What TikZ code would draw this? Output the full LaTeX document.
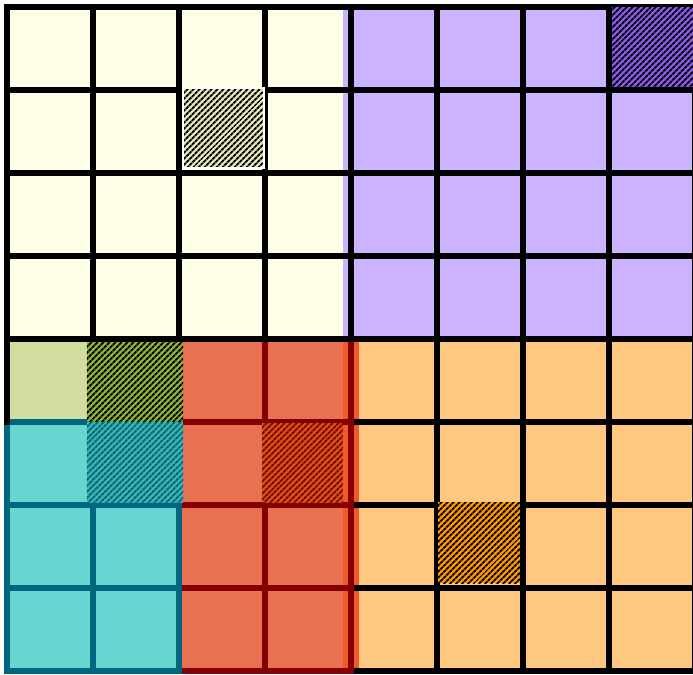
\documentclass[tikz,border=0pt]{standalone}
\usetikzlibrary{patterns.meta}

\definecolor{ivory}{HTML}{FFFFE8}
\definecolor{lavender}{HTML}{CCB3FF}
\definecolor{sage}{HTML}{D2DEA0}
\definecolor{aqua}{HTML}{68D6D0}
\definecolor{coral}{HTML}{E87151}
\definecolor{flame}{HTML}{F05A28}
\definecolor{peach}{HTML}{FFC880}
\definecolor{tealline}{HTML}{00667F}
\definecolor{redline}{HTML}{850000}
\definecolor{khaki}{HTML}{E6E6BE}
\definecolor{violet}{HTML}{8B5BE8}
\definecolor{olive}{HTML}{8DB33A}
\definecolor{seagreen}{HTML}{3FB3AC}
\definecolor{rust}{HTML}{D2561A}
\definecolor{tangerine}{HTML}{FF9900}

\tikzset{
  gridline/.style={line width=6.8pt, line cap=rect},
  hatch/.style n args={2}{preaction={fill=#1},
    pattern={Lines[angle=45,distance=4pt,line width=2pt]}, pattern color=#2}
}

\begin{document}
\begin{tikzpicture}[x=86pt, y=-83pt]
  \useasboundingbox (-0.0814,-0.0843) rectangle (7.977,8.048);

  % 色块
  \fill[ivory] (0,0) rectangle (3.907,4);
  \fill[lavender] (3.907,0) rectangle (8,4);
  \fill[sage] (0,4) rectangle (2,5);
  \fill[aqua] (0,5) rectangle (2,8);
  \fill[coral] (2,4) rectangle (3.907,8);
  \fill[flame] (3.907,4) rectangle (4.093,8);
  \fill[peach] (4.093,4) rectangle (8,8);

  % 右下网格
  \foreach \x in {5,6,7}
    \draw[gridline] (\x,4) -- (\x,8);
  \foreach \y in {5,6,7}
    \draw[gridline, line cap=butt] (4,\y) -- (8.1,\y);

  % 珊瑚色网格
  \foreach \x in {3,4}
    \draw[gridline, redline] (\x,4) -- (\x,8);
  \foreach \y in {5,...,8}
    \draw[gridline, redline] (2,\y) -- (4,\y);

  % 青色网格
  \foreach \x in {0,1,2}
    \draw[gridline, tealline] (\x,5) -- (\x,8);
  \foreach \y in {5,...,8}
    \draw[gridline, tealline] (0,\y) -- (2,\y);

  % 上半网格与边框
  \foreach \x in {0,...,8}
    \draw[gridline] (\x,0) -- (\x,4);
  \foreach \y in {0,...,4}
    \draw[gridline] (0,\y) -- (8,\y);
  \draw[gridline] (0,4) -- (0,5);
  \draw[gridline] (8,4) -- (8,8);
  \draw[gridline] (4.076,8) -- (8,8);

  % 阴影块
  \draw[white, line width=1.5pt, hatch={khaki}{black}] (2.047,0.976) rectangle (2.988,1.94);
  \fill[hatch={violet}{black}] (7.035,0) rectangle (8,0.964);
  \fill[hatch={olive}{black}] (0.93,4.036) rectangle (2.047,5);
  \fill[hatch={seagreen}{tealline}] (0.93,5) rectangle (2.047,5.976);
  \fill[hatch={rust}{redline}] (2.965,5.012) rectangle (3.907,5.976);
  \fill[hatch={tangerine}{black}] (5.01,5.97) rectangle (5.965,6.94);
\end{tikzpicture}
\end{document}
